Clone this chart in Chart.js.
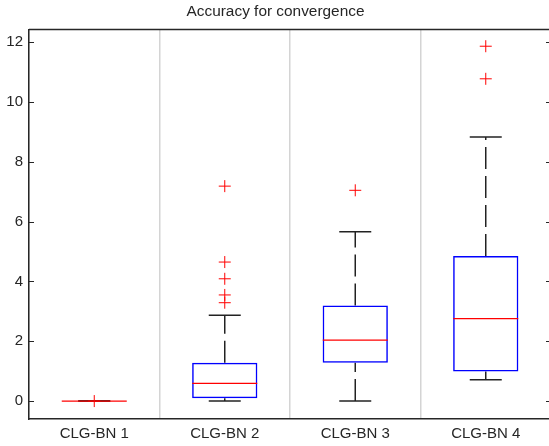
<!DOCTYPE html>
<html>
<head>
<meta charset="utf-8">
<script src="https://cdn.jsdelivr.net/npm/chart.js@4.4.0/dist/chart.umd.min.js"></script>
<style>
    html, body { margin: 0; padding: 0; background: #fff; overflow: hidden; }
    #grafico { display: block; }
</style>
</head>
<body>
<canvas id="grafico" width="552" height="446" style="width:552px;height:446px"></canvas>
<script>
const categorias = ['CLG-BN 1', 'CLG-BN 2', 'CLG-BN 3', 'CLG-BN 4'];
const bigoteInf = [0, 0, 0, 0.71];
const q1 = [0, 0.09, 1.28, 0.99];
const mediana = [0, 0.59, 2.04, 2.76];
const q3 = [0, 1.28, 3.20, 4.85];
const bigoteSup = [0, 2.87, 5.66, 8.83];
const atipicos = [[0], [7.19, 4.65, 4.09, 3.55, 3.29], [7.05], [11.87, 10.78]];
const ticksY = [0, 2, 4, 6, 8, 10, 12];

const fuente = '"Liberation Sans", Arial, sans-serif';
const colorEje = '#262626';

// lineas de bigotes: de la caja al extremo, cortadas con null
const bigotes = [];
categorias.forEach((c, i) => {
    bigotes.push({ x: c, y: bigoteInf[i] }, { x: c, y: q1[i] }, { x: c, y: null });
    bigotes.push({ x: c, y: q3[i] }, { x: c, y: bigoteSup[i] }, { x: c, y: null });
});

const topes = [];
categorias.forEach((c, i) => {
    topes.push({ x: c, y: bigoteInf[i] }, { x: c, y: bigoteSup[i] });
});

const puntosAtipicos = [];
atipicos.forEach((lista, i) => {
    lista.forEach(v => puntosAtipicos.push({ x: categorias[i], y: v }));
});

const marco = {
    id: 'marco',
    afterDraw(chart) {
        const { ctx, chartArea: a, scales } = chart;
        ctx.save();
        ctx.strokeStyle = colorEje;
        ctx.lineWidth = 1.5;
        ctx.beginPath();
        ctx.moveTo(a.left, a.top);
        ctx.lineTo(a.right, a.top);
        ctx.lineTo(a.right, a.bottom);
        ctx.stroke();
        ctx.lineWidth = 1;
        ticksY.forEach(v => {
            const y = Math.round(scales.y.getPixelForValue(v)) + 0.5;
            ctx.beginPath();
            ctx.moveTo(a.left, y);
            ctx.lineTo(a.left + 5, y);
            ctx.moveTo(a.right, y);
            ctx.lineTo(a.right - 5, y);
            ctx.stroke();
        });
        ctx.restore();
    }
};

new Chart(document.getElementById('grafico'), {
    type: 'bar',
    data: {
        labels: categorias,
        datasets: [
            {
                type: 'line',
                data: bigotes,
                borderColor: '#222',
                borderWidth: 1.5,
                borderDash: [22, 7],
                pointRadius: 0,
                spanGaps: false,
                order: 4
            },
            {
                type: 'bar',
                data: categorias.map((c, i) => [q1[i], q3[i]]),
                backgroundColor: 'rgba(255,255,255,0)',
                borderColor: '#0000ff',
                borderWidth: 1.5,
                borderSkipped: false,
                barPercentage: 0.5,
                categoryPercentage: 1,
                order: 3
            },
            {
                type: 'line',
                data: topes,
                showLine: false,
                pointStyle: 'line',
                pointRadius: 16,
                pointBorderColor: '#222',
                pointBorderWidth: 1.5,
                order: 2
            },
            {
                type: 'line',
                data: categorias.map((c, i) => ({ x: c, y: mediana[i] })),
                showLine: false,
                pointStyle: 'line',
                pointRadius: 32.5,
                pointBorderColor: '#ff0000',
                pointBorderWidth: 1.2,
                order: 1
            },
            {
                type: 'line',
                data: puntosAtipicos,
                showLine: false,
                pointStyle: 'cross',
                pointRadius: 6,
                pointBorderColor: '#ff0000',
                pointBorderWidth: 1,
                order: 0
            }
        ]
    },
    options: {
        responsive: false,
        animation: false,
        layout: { autoPadding: false, padding: { right: 1 } },
        plugins: {
            legend: { display: false },
            tooltip: { enabled: false },
            title: {
                display: true,
                text: 'Accuracy for convergence',
                color: colorEje,
                font: { family: fuente, size: 15.4, weight: 'normal', lineHeight: 1.2 },
                padding: { top: 3, bottom: 8 }
            }
        },
        scales: {
            x: {
                offset: true,
                grid: { offset: true, color: '#d4d4d4', lineWidth: 1.5, drawTicks: false },
                border: { display: true, color: colorEje, width: 1.5 },
                ticks: { color: colorEje, padding: 6, font: { family: fuente, size: 15 } },
                afterFit(scale) { scale.height = 27; }
            },
            y: {
                min: -0.6,
                max: 12.43,
                grid: { display: false, drawTicks: false },
                border: { display: true, color: colorEje, width: 1.5 },
                ticks: { color: colorEje, padding: 6, font: { family: fuente, size: 15 } },
                afterBuildTicks(scale) { scale.ticks = ticksY.map(v => ({ value: v })); },
                afterFit(scale) { scale.width = 29; }
            }
        }
    },
    plugins: [marco]
});
</script>
</body>
</html>
